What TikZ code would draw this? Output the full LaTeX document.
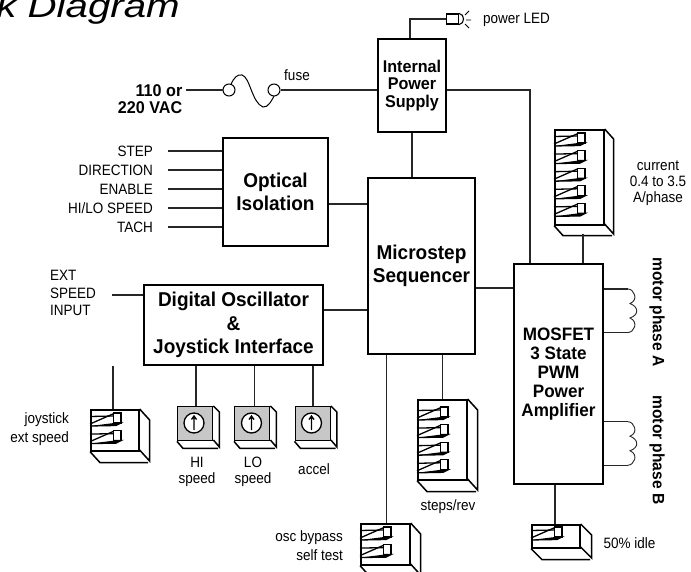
\documentclass[tikz,border=0pt]{standalone}
\usepackage{fontspec}
\setmainfont{Liberation Sans}
\newfontfamily\rgf{Liberation Sans}[FakeStretch=0.9]
\newfontfamily\bdf{Liberation Sans}[FakeStretch=0.95]
\newfontfamily\ttlf{Liberation Sans}[FakeStretch=1.22]
\newcommand{\rgsize}{\rgf\fontsize{15}{17}\selectfont}
\newcommand{\bdmid}{\bdf\bfseries\fontsize{17}{17.5}\selectfont}
\newcommand{\bdbig}{\bdf\bfseries\fontsize{20}{23.3}\selectfont}
\newcommand{\bdamp}{\bdf\bfseries\fontsize{18}{19}\selectfont}
\tikzset{
  blk/.style={draw,line width=1.8pt,inner sep=0pt,align=center,fill=white},
  wire/.style={line width=1.1pt,black!85},
  lbl/.style={inner sep=0pt,font=\rgsize,align=center},
  lblr/.style={inner sep=0pt,font=\rgsize,align=right,anchor=east},
  lbll/.style={inner sep=0pt,font=\rgsize,align=left,anchor=west},
  thin3d/.style={line width=1.5pt,line join=miter},
  swl/.style={line width=1.3pt},
  motor/.style={inner sep=0pt,rotate=-90,font=\bdf\bfseries\fontsize{16.4}{18}\selectfont},
}
% \dipsw{name}{left}{top}{width}{height}{dx}{dy}{first knob top}{count}
\newcommand{\dipsw}[9]{%
  \node[draw,line width=1.6pt,inner sep=0pt,minimum width=#4pt,minimum height=#5pt,anchor=north west] (#1) at (#2,#3) {};
  \draw[thin3d] (#1.north east) -- ++(#6,#7) -- ++(0,#5) -- ++(-#6,-#7) (#1.south west) -- ++(#6,#7) -- ++(#4,0);
  \foreach \k in {1,...,#9}{%
    \pgfmathsetmacro{\yy}{#8+(\k-1)*17.6}
    \draw[swl] (#2,\yy+3.5) -- ++(24,-0.5);
    \draw[swl] (#2,\yy+11) -- (#2+24,\yy+0.5);
    \draw[swl,fill=white] (#2+23.5,\yy) rectangle ++(7.5,10);
    \draw[swl,fill=black] (#2,\yy+13) -- ++(26,-0.5) -- ++(5,-2.5) -- ++(-7,0);
  }
}
% \potbox{name}{left}{centre x}
\newcommand{\potbox}[3]{%
  \node[draw,line width=1.4pt,fill=black!22,inner sep=0pt,minimum width=35pt,minimum height=34pt,anchor=north west] (#1) at (#2,406) {};
  \draw[thin3d] (#1.north east) -- ++(6,6) -- ++(0,35) -- ++(-6,-7) (#1.south west) -- ++(6,7) -- ++(35,0);
  \node[draw,circle,line width=1.3pt,fill=white,minimum size=20pt,inner sep=0pt] (#1c) at (#3,423) {};
  \draw[line width=1.3pt] (#3,430) -- (#3,416) (#3-2.5,419.5) -- (#3,416) -- (#3+2.5,419.5);
}
% \coil{first y}
\newcommand{\coil}[1]{%
  \draw[wire,line width=0.9pt] (628,#1) .. controls (634,#1) and (639,#1+11) .. (630,#1+14.5)
    .. controls (639,#1+18) and (639,#1+26) .. (630,#1+29)
    .. controls (639,#1+33) and (634,#1+43.5) .. (628,#1+43.5);
}
\begin{document}
\begin{tikzpicture}[x=1pt,y=-1pt]
\useasboundingbox (0,0) rectangle (691,572);
\clip (0,0) rectangle (691,572);
% title
\node[inner sep=0pt,anchor=base east,font=\ttlf\itshape\fontsize{33}{33}\selectfont] (title) at (180,18) {k Diagram};
% main blocks
\node[blk,minimum width=68pt,minimum height=93pt,font=\bdmid] (psu) at (412,85.5) {Internal\\Power\\Supply};
\node[blk,minimum width=105pt,minimum height=108pt,font=\bdbig] (opto) at (275.5,192) {Optical\\Isolation};
\node[blk,minimum width=107pt,minimum height=176pt,font=\bdbig] (seq) at (421.5,266) {Microstep\\Sequencer};
\node[blk,minimum width=179pt,minimum height=80pt,font=\bdbig] (osc) at (233.5,325) {Digital Oscillator\\\&\\Joystick Interface};
\node[blk,minimum width=89pt,minimum height=220pt,font=\bdamp] (amp) at (558.5,374) {MOSFET\\3 State\\PWM\\Power\\Amplifier};
% DIP switches
\dipsw{dipcur}{554}{129}{49}{95}{9}{10}{133}{5}
\dipsw{dipjoy}{90}{409}{48}{41}{10}{11}{413}{2}
\dipsw{dipstep}{417}{399}{49}{80}{10}{11}{407}{4}
\dipsw{dipbyp}{360}{523}{49}{41}{10}{11}{527}{2}
\dipsw{dipidle}{531}{524}{48}{23}{11}{11}{527}{1}
% potentiometers
\potbox{pothi}{177}{194}
\potbox{potlo}{234}{251.5}
\potbox{potac}{294.5}{311.5}
% power section
\coordinate (psuled) at (410,19);
\node[draw,line width=1.1pt,inner sep=0pt,minimum width=12pt,minimum height=10pt,anchor=west] (led) at (446,19) {};
\draw[line width=1.1pt] (led.north east) .. controls (465,14) and (465,24) .. (led.south east);
\draw[line width=0.8pt] (465,15) -- (469,11) (466,20) -- (471,20) (465,24) -- (469,28);
\draw[wire] (psuled |- psu.north) -- (psuled) -- (led.west);
\node[lbll] (ledl) at (483,20) {power LED};
\node[inner sep=0pt,align=right,anchor=east,font=\bdmid] (mains) at (182.5,99) {110 or\\220 VAC};
\node[draw,circle,line width=1pt,minimum size=12pt,inner sep=0pt] (fa) at (229,90) {};
\node[draw,circle,line width=1pt,minimum size=12pt,inner sep=0pt] (fb) at (274,90) {};
\draw[line width=1pt] (231,84.5) .. controls (234,77) and (238,74) .. (242,75) .. controls (250,77) and (252,103) .. (263,107) .. controls (268,108) and (272,100) .. (274,96);
\node[lbl] (fusel) at (297,75) {fuse};
\coordinate (mainsl) at (186,90);
\draw[wire] (mainsl) -- (fa.west);
\draw[wire] (fb.east) -- (fb.east -| psu.west);
\coordinate (psur) at (530,90);
\draw[wire] (psur -| psu.east) -- (psur) -- (psur |- amp.north);
\draw[wire] (psu.south) -- (psu.south |- seq.north);
% current switch
\node[lbl,font=\rgf\fontsize{15}{16}\selectfont] (curl) at (658,183) {current\\0.4 to 3.5\\A/phase};
\coordinate (curst) at (583,234);
\draw[wire] (curst) -- (curst |- amp.north);
% inputs
\node[lblr] (ia) at (153,151) {STEP};
\node[lblr] (ib) at (153,170) {DIRECTION};
\node[lblr] (ic) at (153,189) {ENABLE};
\node[lblr] (id) at (153,208) {HI/LO SPEED};
\node[lblr] (ie) at (153,227) {TACH};
\coordinate (sa) at (168,151);\coordinate (sb) at (168,170);\coordinate (sc) at (168,189);\coordinate (sd) at (168,208);\coordinate (se) at (168,227);
\draw[wire] (sa) -- (sa -| opto.west);
\draw[wire] (sb) -- (sb -| opto.west);
\draw[wire] (sc) -- (sc -| opto.west);
\draw[wire] (sd) -- (sd -| opto.west);
\draw[wire] (se) -- (se -| opto.west);
\coordinate (om) at (330,204);
\draw[wire] (om -| opto.east) -- (om -| seq.west);
\coordinate (ma) at (490,288);
\draw[wire] (ma -| seq.east) -- (ma -| amp.west);
% oscillator
\node[lbl,font=\rgf\fontsize{15}{17.5}\selectfont,align=left,anchor=west] (extl) at (50,293) {EXT\\SPEED\\INPUT};
\coordinate (exts) at (112,295);
\draw[wire] (exts) -- (exts -| osc.west);
\coordinate (oscm) at (340,310);
\draw[wire] (oscm -| osc.east) -- (oscm -| seq.west);
\coordinate (jst) at (113,400);
\draw[wire] (jst |- osc.south) -- (jst |- dipjoy.north);
\coordinate (hst) at (196,400);
\draw[wire] (hst |- osc.south) -- (hst |- pothi.north);
\coordinate (lst) at (254.5,400);
\draw[wire] (lst |- osc.south) -- (lst |- potlo.north);
\coordinate (ast) at (313,400);
\draw[wire] (ast |- osc.south) -- (ast |- potac.north);
\node[lblr,align=right,font=\rgf\fontsize{15}{19}\selectfont] (joyl) at (69,429.5) {joystick\\ext speed};
\node[lbl,font=\rgf\fontsize{15}{16}\selectfont] (hil) at (197,472) {HI\\speed};
\node[lbl,font=\rgf\fontsize{15}{16}\selectfont] (lol) at (253,472) {LO\\speed};
\node[lbl] (acl) at (314,469) {accel};
% sequencer bottom
\coordinate (bst) at (386.5,400);
\draw[wire] (bst |- seq.south) -- (bst |- dipbyp.north);
\coordinate (sst) at (442.5,400);
\draw[wire] (sst |- seq.south) -- (sst |- dipstep.north);
\node[lblr,align=right,font=\rgf\fontsize{15}{19}\selectfont] (bypl) at (343,545.5) {osc bypass\\self test};
\node[lbl] (stepl) at (448,507) {steps/rev};
% amplifier
\coordinate (idst) at (555,500);
\draw[wire] (idst |- amp.south) -- (idst |- dipidle.north);
\node[lbll] (idlel) at (603.5,543) {50\% idle};
\coordinate (a1) at (628,289);\coordinate (a2) at (628,332.5);
\coordinate (b1) at (628,421.7);\coordinate (b2) at (628,465.2);
\draw[wire] (a1 -| amp.east) -- (a1);
\draw[wire] (a2 -| amp.east) -- (a2);
\draw[wire] (b1 -| amp.east) -- (b1);
\draw[wire] (b2 -| amp.east) -- (b2);
\coil{289}
\coil{421.7}
\node[motor] (mpa) at (657,312) {motor phase A};
\node[motor] (mpb) at (657,450) {motor phase B};
\end{tikzpicture}
\end{document}
